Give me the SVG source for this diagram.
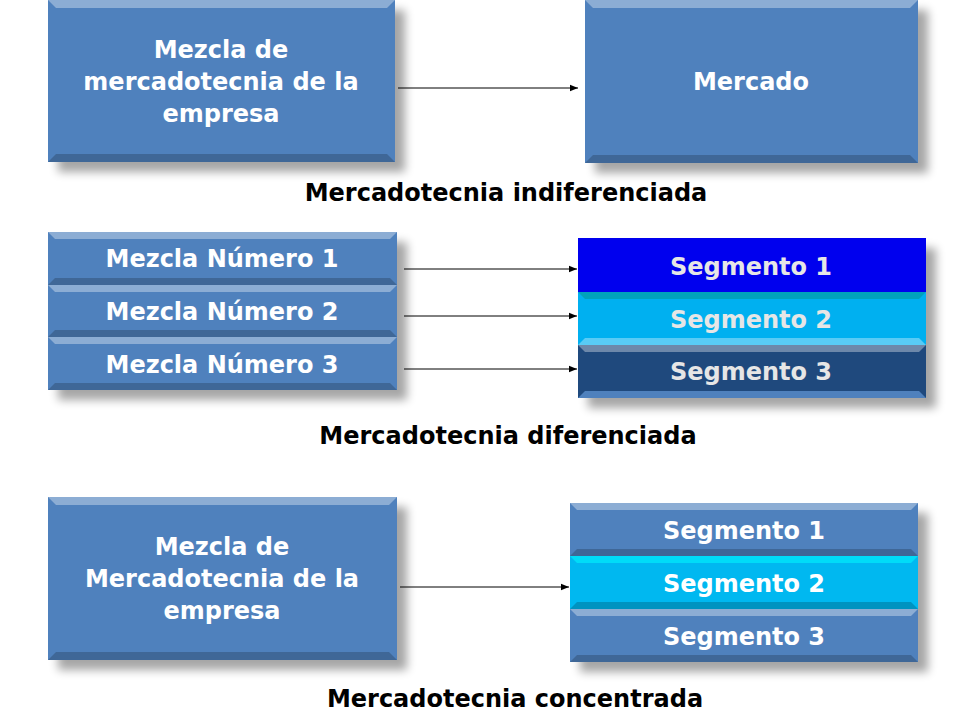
<svg xmlns="http://www.w3.org/2000/svg" width="960" height="720" viewBox="0 0 960 720">
<defs>
<filter id="sh" x="-10%" y="-10%" width="130%" height="140%"><feGaussianBlur stdDeviation="5"/></filter>
<marker id="ar" viewBox="0 0 10 10" refX="10" refY="5" markerWidth="8" markerHeight="8" markerUnits="userSpaceOnUse" orient="auto"><path d="M0,1 L10,5 L0,9 z" fill="#000"/></marker>
</defs>
<style>
text{font-family:"DejaVu Sans",Verdana,sans-serif;font-weight:bold;font-size:24px;text-anchor:middle}
.w{fill:#fff}.g{fill:#e6e6e6}.cap{fill:#000}
.sh{fill:#000;opacity:.35;filter:url(#sh)}
.hi{fill:#fff;opacity:.35}.lo{fill:#000;opacity:.2}.sd{fill:#fff;opacity:.12}
.c{stroke:#000;stroke-width:1;fill:none;marker-end:url(#ar)}
</style>
<rect width="960" height="720" fill="#fff"/>
<g id="shadows">
<rect class="sh" x="58" y="10" width="347" height="162"/>
<rect class="sh" x="595" y="10" width="333" height="163"/>
<rect class="sh" x="58" y="242" width="349" height="158"/>
<rect class="sh" x="588" y="248" width="348" height="160"/>
<rect class="sh" x="58" y="507" width="349" height="163"/>
<rect class="sh" x="580" y="513" width="348" height="159"/>
</g>
<g id="n1">
<rect x="48" y="0" width="347" height="162" fill="#4f81bd"/>
<polygon class="hi" points="48,0 395,0 387,8 56,8"/><polygon class="lo" points="48,162 395,162 387,154 56,154"/>
<text class="w" x="221" y="58">Mezcla de</text><text class="w" x="221" y="90">mercadotecnia de la</text><text class="w" x="221" y="122">empresa</text>
</g>
<g id="n2">
<rect x="585" y="0" width="333" height="163" fill="#4f81bd"/>
<polygon class="hi" points="585,0 918,0 910,8 593,8"/><polygon class="lo" points="585,163 918,163 910,155 593,155"/>
<text class="w" x="751" y="90">Mercado</text>
</g>
<text class="cap" x="506" y="201">Mercadotecnia indiferenciada</text>
<g id="n3">
<rect x="48" y="232" width="349" height="53" fill="#4f81bd"/><polygon class="hi" points="48,232 397,232 390,239 55,239"/><polygon class="lo" points="48,285 397,285 390,278 55,278"/>
<text class="w" x="222" y="267">Mezcla Número 1</text>
</g>
<g id="n4">
<rect x="48" y="285" width="349" height="52" fill="#4f81bd"/><polygon class="hi" points="48,285 397,285 390,292 55,292"/><polygon class="lo" points="48,337 397,337 390,330 55,330"/>
<text class="w" x="222" y="320">Mezcla Número 2</text>
</g>
<g id="n5">
<rect x="48" y="337" width="349" height="53" fill="#4f81bd"/><polygon class="hi" points="48,337 397,337 390,344 55,344"/><polygon class="lo" points="48,390 397,390 390,383 55,383"/>
<text class="w" x="222" y="373">Mezcla Número 3</text>
</g>
<g id="n6">
<rect x="578" y="238" width="348" height="54" fill="#0000ee"/>
<text class="g" x="751" y="275">Segmento 1</text>
</g>
<g id="n7">
<rect x="578" y="292" width="348" height="53" fill="#00b0f0"/><polygon points="578,292 926,292 919,299 585,299" fill="#009999" opacity=".6"/><polygon class="hi" points="578,345 926,345 919,338 585,338"/>
<text class="g" x="751" y="328">Segmento 2</text>
</g>
<g id="n8">
<rect x="578" y="345" width="348" height="53" fill="#1f497d"/><polygon class="hi" points="578,345 926,345 919,352 585,352"/><polygon fill="#4f81bd" points="578,398 926,398 919,391 585,391"/>
<text class="g" x="751" y="380">Segmento 3</text>
</g>
<text class="cap" x="508" y="444">Mercadotecnia diferenciada</text>
<g id="n9">
<rect x="48" y="497" width="349" height="163" fill="#4f81bd"/>
<polygon class="hi" points="48,497 397,497 389,505 56,505"/><polygon class="lo" points="48,660 397,660 389,652 56,652"/>
<text class="w" x="222" y="555">Mezcla de</text><text class="w" x="222" y="587">Mercadotecnia de la</text><text class="w" x="222" y="619">empresa</text>
</g>
<g id="n10">
<rect x="570" y="503" width="348" height="53" fill="#4f81bd"/><polygon class="hi" points="570,503 918,503 911,510 577,510"/><polygon class="lo" points="570,556 918,556 911,549 577,549"/>
<text class="w" x="744" y="539">Segmento 1</text>
</g>
<g id="n11">
<rect x="570" y="556" width="348" height="53" fill="#00b8f0"/><polygon fill="#00ffff" opacity=".5" points="570,556 918,556 911,563 577,563"/><polygon class="lo" points="570,609 918,609 911,602 577,602"/>
<text class="w" x="744" y="592">Segmento 2</text>
</g>
<g id="n12">
<rect x="570" y="609" width="348" height="53" fill="#4f81bd"/><polygon class="hi" points="570,609 918,609 911,616 577,616"/><polygon class="lo" points="570,662 918,662 911,655 577,655"/>
<text class="w" x="744" y="645">Segmento 3</text>
</g>
<text class="cap" x="515" y="707">Mercadotecnia concentrada</text>
<g id="connectors">
<line class="c" x1="398" y1="88" x2="578" y2="88"/>
<line class="c" x1="404" y1="269" x2="577" y2="269"/>
<line class="c" x1="404" y1="316" x2="577" y2="316"/>
<line class="c" x1="404" y1="369" x2="577" y2="369"/>
<line class="c" x1="400" y1="587" x2="569" y2="587"/>
</g>
</svg>
